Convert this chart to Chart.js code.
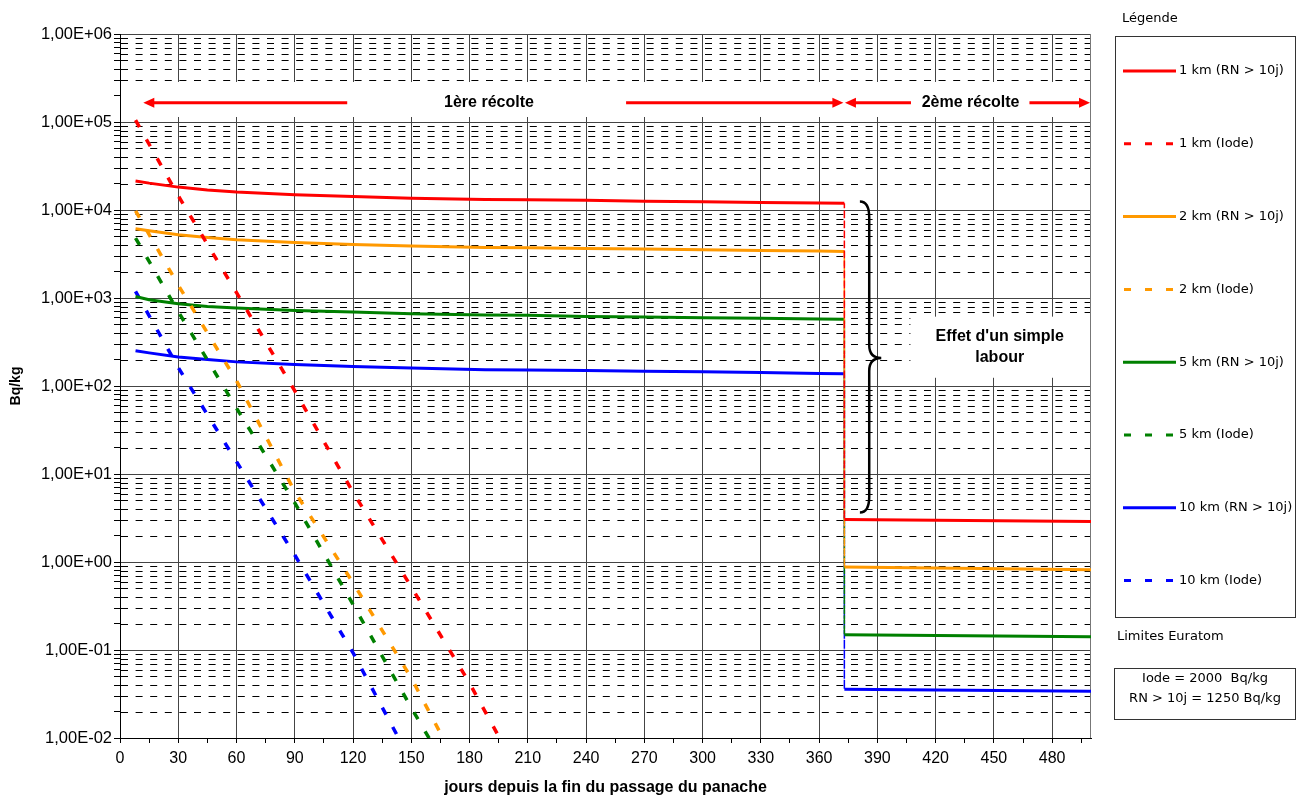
<!DOCTYPE html>
<html lang="fr">
<head>
<meta charset="utf-8">
<title>Bq/kg</title>
<script src="https://cdn.jsdelivr.net/npm/chart.js@4.4.1/dist/chart.umd.min.js"></script>
<style>
  html, body { margin: 0; padding: 0; background: #fff; }
  #wrap { width: 1300px; height: 799px; }
</style>
</head>
<body>
<div id="wrap"><canvas id="chart" width="1300" height="799"></canvas></div>
<script>
// données
const dayRN = [8, 15, 30, 45, 60, 90, 120, 150, 188, 210, 240, 270, 300, 330, 360, 373, 373, 500];
const rn1km = [21400, 20200, 18200, 16900, 16000, 14900, 14200, 13600, 13200, 13100, 12900, 12600, 12400, 12200, 12000, 11900, 3.05, 2.89];
const rn2km = [6120, 5800, 5240, 4880, 4600, 4280, 4060, 3890, 3750, 3720, 3660, 3600, 3530, 3460, 3410, 3380, 0.875, 0.817];
const rn5km = [1040, 955, 861, 803, 769, 723, 693, 663, 641, 635, 618, 608, 597, 587, 578, 572, 0.149, 0.141];
const rn10km = [252, 238, 214, 200, 188, 175, 167, 160, 153, 152, 150, 147, 145, 142, 139, 138, 0.0358, 0.034];

const dayIode1km = [8, 30, 60, 90, 120, 150, 180, 196];
const iode1km = [105000, 14500, 1150, 88, 6.2, 0.52, 0.042, 0.0095];
const dayIode2km = [8, 30, 60, 90, 120, 150, 168];
const iode2km = [9800, 1400, 115, 6.3, 0.58, 0.048, 0.0085];
const dayIode5km = [8, 30, 60, 90, 120, 150, 161];
const iode5km = [4800, 700, 56, 4.7, 0.33, 0.022, 0.0085];
const dayIode10km = [8, 30, 60, 90, 120, 144];
const iode10km = [1190, 162, 13.8, 1.2, 0.093, 0.0095];

const xLabels = [0, 30, 60, 90, 120, 150, 180, 210, 240, 270, 300, 330, 360, 390, 420, 450, 480];
const yDecades = [-2, -1, 0, 1, 2, 3, 4, 5, 6];
const yMultiples = [1, 2, 3, 4, 5, 6, 7, 8, 9];

const FONT = "'Liberation Sans', Arial, sans-serif";
const LEG_FONT = "'DejaVu Sans', Verdana, sans-serif";

const pts = (xs, ys) => xs.map((d, i) => ({x: d, y: ys[i]}));
const isDecade = v => Math.abs(Math.log10(v) - Math.round(Math.log10(v))) < 1e-9;
const sciLabel = v => {
    const e = Math.round(Math.log10(v));
    return '1,00E' + (e < 0 ? '-' : '+') + String(Math.abs(e)).padStart(2, '0');
};

const yTickValues = yDecades.flatMap(e => e === 6 ? [1e6] : yMultiples.map(m => m * Math.pow(10, e)));
const xTickValues = xLabels.flatMap(v => v + 15 < 500 ? [v, v + 15] : [v]);

// segment vertical (labour) : trait fin pointillé
const vertical = c => c.p0.parsed.x === c.p1.parsed.x;

function rnSet(label, color, data) {
    return {
        label: label, data: data, borderColor: color, backgroundColor: color,
        borderWidth: 3, pointRadius: 0, tension: 0, fill: false,
        segment: {
            borderWidth: c => vertical(c) ? 1.5 : undefined,
            borderDash: c => vertical(c) ? [5, 5] : undefined
        }
    };
}
function iodeSet(label, color, data) {
    return {
        label: label, data: data, borderColor: color, backgroundColor: color,
        borderWidth: 3.5, borderDash: [8, 14], borderCapStyle: 'butt',
        pointRadius: 0, tension: 0, fill: false
    };
}

//annotations, légende et grille secondaire
const extras = {
    id: 'extras',
    beforeDatasetsDraw(chart) {
        const {ctx, chartArea: a, scales: {x, y}} = chart;
        ctx.save();
        ctx.strokeStyle = '#000';
        ctx.lineWidth = 1;
        ctx.setLineDash([7, 7.6]);
        y.ticks.forEach(t => {
            if (isDecade(t.value)) return;
            const py = Math.round(y.getPixelForValue(t.value)) + 0.5;
            ctx.beginPath();
            ctx.moveTo(a.left + 1, py);
            ctx.lineTo(a.right, py);
            ctx.stroke();
        });
        ctx.setLineDash([]);

        ctx.fillStyle = '#fff';
        const b1 = y.getPixelForValue(2.85e5), b2 = y.getPixelForValue(1.14e5);
        ctx.fillRect(a.left + 1, b1, a.right - a.left - 1, b2 - b1);
        const ex = x.getPixelForValue(407), ey1 = y.getPixelForValue(614), ey2 = y.getPixelForValue(124);
        ctx.fillRect(ex, ey1, a.right - ex, ey2 - ey1);

        ctx.strokeStyle = '#777';
        ctx.beginPath();
        ctx.moveTo(a.right - 0.5, a.top);
        ctx.lineTo(a.right - 0.5, a.bottom);
        ctx.stroke();
        ctx.restore();
    },
    afterDatasetsDraw(chart) {
        const {ctx, scales: {x, y}} = chart;
        ctx.save();

        // flèches des récoltes
        const ay = y.getPixelForValue(1.65e5);
        ctx.strokeStyle = '#ff0000';
        ctx.fillStyle = '#ff0000';
        ctx.lineWidth = 3;
        const head = (tx, dir) => {
            ctx.beginPath();
            ctx.moveTo(tx, ay);
            ctx.lineTo(tx + dir * 11, ay - 5);
            ctx.lineTo(tx + dir * 11, ay + 5);
            ctx.closePath();
            ctx.fill();
        };
        const shaft = (d1, d2) => {
            ctx.beginPath();
            ctx.moveTo(x.getPixelForValue(d1), ay);
            ctx.lineTo(x.getPixelForValue(d2), ay);
            ctx.stroke();
        };
        shaft(15, 117);
        shaft(260.6, 369);
        head(x.getPixelForValue(12), 1);
        head(x.getPixelForValue(372.5), -1);
        shaft(377, 407.3);
        shaft(468.3, 496);
        head(x.getPixelForValue(373.3), 1);
        head(x.getPixelForValue(499.5), -1);

        ctx.fillStyle = '#000';
        ctx.font = 'bold 16px ' + FONT;
        ctx.textAlign = 'center';
        ctx.textBaseline = 'middle';
        ctx.fillText('1ère récolte', x.getPixelForValue(190), ay);
        ctx.fillText('2ème récolte', x.getPixelForValue(438), ay);

        // accolade
        const x0 = x.getPixelForValue(381), xv = x.getPixelForValue(385.8), xp = x.getPixelForValue(392);
        const yT = y.getPixelForValue(1.25e4), yM = y.getPixelForValue(208), yB = y.getPixelForValue(3.66);
        ctx.strokeStyle = '#000';
        ctx.lineWidth = 2.5;
        ctx.beginPath();
        ctx.moveTo(x0, yT);
        ctx.quadraticCurveTo(xv, yT, xv, yT + 16);
        ctx.lineTo(xv, yM - 13);
        ctx.quadraticCurveTo(xv, yM, xp, yM);
        ctx.quadraticCurveTo(xv, yM, xv, yM + 13);
        ctx.lineTo(xv, yB - 16);
        ctx.quadraticCurveTo(xv, yB, x0, yB);
        ctx.stroke();

        const ec = (y.getPixelForValue(614) + y.getPixelForValue(124)) / 2;
        ctx.fillText("Effet d'un simple", x.getPixelForValue(453), ec - 10.8);
        ctx.fillText('labour', x.getPixelForValue(453), ec + 10.8);

        // légende
        ctx.font = '13px ' + LEG_FONT;
        ctx.textAlign = 'left';
        ctx.fillStyle = '#000';
        ctx.fillText('Légende', 1122, 19);
        ctx.strokeStyle = '#333';
        ctx.lineWidth = 1;
        ctx.strokeRect(1115.5, 36.5, 180, 581);
        chart.data.datasets.forEach((ds, i) => {
            const ly = 71 + i * 72.8;
            ctx.strokeStyle = ds.borderColor;
            ctx.lineWidth = 3;
            ctx.setLineDash(ds.borderDash ? [7, 14] : []);
            ctx.beginPath();
            ctx.moveTo(ds.borderDash ? 1124 : 1123, ly);
            ctx.lineTo(1176, ly);
            ctx.stroke();
            ctx.setLineDash([]);
            ctx.fillText(ds.label, 1179, ly);
        });

        ctx.fillText('Limites Euratom', 1117, 637);
        ctx.strokeStyle = '#333';
        ctx.lineWidth = 1;
        ctx.strokeRect(1114.5, 668.5, 181, 51);
        ctx.textAlign = 'center';
        ctx.fillText('Iode = 2000  Bq/kg', 1205, 679);
        ctx.fillText('RN > 10j = 1250 Bq/kg', 1205, 699);
        ctx.restore();
    }
};

const chart = new Chart(document.getElementById('chart'), {
    type: 'line',
    data: {
        datasets: [
            rnSet('1 km (RN > 10j)', '#ff0000', pts(dayRN, rn1km)),
            iodeSet('1 km (Iode)', '#ff0000', pts(dayIode1km, iode1km)),
            rnSet('2 km (RN > 10j)', '#ff9900', pts(dayRN, rn2km)),
            iodeSet('2 km (Iode)', '#ff9900', pts(dayIode2km, iode2km)),
            rnSet('5 km (RN > 10j)', '#008000', pts(dayRN, rn5km)),
            iodeSet('5 km (Iode)', '#008000', pts(dayIode5km, iode5km)),
            rnSet('10 km (RN > 10j)', '#0000ff', pts(dayRN, rn10km)),
            iodeSet('10 km (Iode)', '#0000ff', pts(dayIode10km, iode10km))
        ]
    },
    options: {
        responsive: false,
        animation: false,
        layout: { padding: { top: 34, right: 209, left: 0, bottom: 0 } },
        plugins: {
            legend: { display: false },
            tooltip: { enabled: false }
        },
        scales: {
            x: {
                type: 'linear',
                min: 0,
                max: 500,
                afterBuildTicks: s => { s.ticks = xTickValues.map(v => ({value: v})); },
                afterFit: s => { s.height = 61; },
                ticks: {
                    autoSkip: false,
                    maxRotation: 0,
                    padding: 6,
                    color: '#000',
                    font: { family: FONT, size: 16 },
                    callback: v => v % 30 === 0 ? String(v) : ''
                },
                grid: {
                    color: c => (c.tick && c.tick.value % 30 === 0) ? '#444' : 'rgba(0,0,0,0)',
                    tickColor: '#000',
                    tickLength: 5,
                    lineWidth: 1
                },
                border: { color: '#000', width: 1 },
                title: {
                    display: true,
                    text: 'jours depuis la fin du passage du panache',
                    color: '#000',
                    font: { family: FONT, size: 16, weight: 'bold' },
                    padding: { top: 0, bottom: 2 }
                }
            },
            y: {
                type: 'logarithmic',
                min: 0.01,
                max: 1e6,
                afterBuildTicks: s => { s.ticks = yTickValues.map(v => ({value: v})); },
                afterFit: s => { s.width = 120; },
                ticks: {
                    autoSkip: false,
                    padding: 2,
                    color: '#000',
                    font: { family: FONT, size: 16.5 },
                    callback: v => isDecade(v) ? sciLabel(v) : ''
                },
                grid: {
                    color: c => (c.tick && isDecade(c.tick.value)) ? '#444' : 'rgba(0,0,0,0)',
                    tickColor: '#000',
                    tickLength: 6,
                    lineWidth: 1
                },
                border: { color: '#000', width: 1 },
                title: {
                    display: true,
                    text: 'Bq/kg',
                    color: '#000',
                    font: { family: FONT, size: 14, weight: 'bold' },
                    padding: { top: 8, bottom: 4 }
                }
            }
        }
    },
    plugins: [extras]
});
</script>
</body>
</html>
